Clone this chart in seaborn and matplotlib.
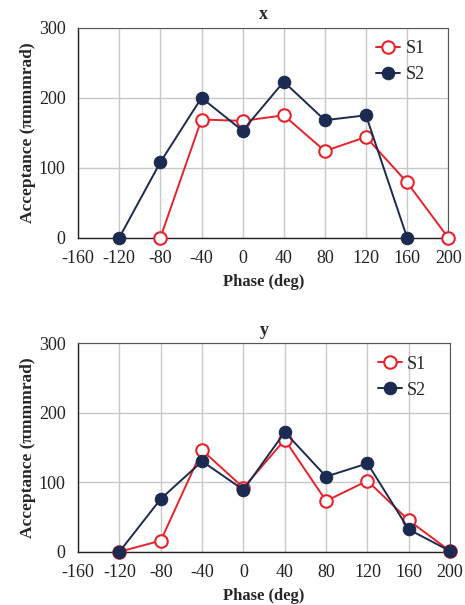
import matplotlib
matplotlib.use('Agg')
import matplotlib.pyplot as plt
import seaborn as sns
import pandas as pd

# phase values and acceptances
phase = [-120, -80, -40, 0, 40, 80, 120, 160, 200]
x_s1 = [None, 0, 169, 167, 175, 124, 144, 79, 0]
x_s2 = [0, 108, 200, 153, 223, 168, 175, 0, None]
y_s1 = [0, 16, 146, 92, 161, 73, 102, 45, 1]
y_s2 = [0, 76, 130, 89, 172, 108, 127, 32, 1]
xticks = [-160, -120, -80, -40, 0, 40, 80, 120, 160, 200]
yticks = [0, 100, 200, 300]

RED = '#e8222b'
NAVY = '#1b2a50'

sns.set_style('white')
plt.rcParams['font.family'] = ['Liberation Serif', 'DejaVu Serif']
plt.rcParams['axes.unicode_minus'] = False

fig = plt.figure(figsize=(4.65, 6.05), dpi=100)
ax_top = fig.add_axes([0.168, 0.607, 0.796, 0.347])
ax_bot = fig.add_axes([0.168, 0.088, 0.800, 0.345])


def draw(ax, s1, s2, title):
    df = pd.DataFrame({'phase': phase, 'S1': s1, 'S2': s2})
    d1 = df.dropna(subset=['S1'])
    d2 = df.dropna(subset=['S2'])
    sns.lineplot(data=d1, x='phase', y='S1', ax=ax, color=RED, lw=1.4,
                 marker='o', markersize=9, markerfacecolor='white',
                 markeredgecolor=RED, markeredgewidth=1.5, label='S1',
                 clip_on=False, zorder=3)
    sns.lineplot(data=d2, x='phase', y='S2', ax=ax, color=NAVY, lw=1.4,
                 marker='o', markersize=9, markerfacecolor=NAVY,
                 markeredgecolor=NAVY, label='S2', clip_on=False, zorder=4)
    ax.set_xlim(-160, 200)
    ax.set_ylim(0, 300)
    ax.set_xticks(xticks)
    ax.set_yticks(yticks)
    ax.grid(True, color='#c8c8c8', lw=1.0)
    ax.set_axisbelow(True)
    for side in ['top', 'right']:
        ax.spines[side].set_color('#555555')
        ax.spines[side].set_linewidth(0.8)
    for side in ['left', 'bottom']:
        ax.spines[side].set_color('#222222')
        ax.spines[side].set_linewidth(1.0)
    ax.tick_params(axis='both', labelsize=13, length=4, width=1,
                   colors='#222222', direction='out', pad=5)
    ax.tick_params(axis='x', length=0, pad=9)
    ax.set_xlabel('Phase (deg)', fontsize=12, fontweight='bold', labelpad=5)
    ax.set_ylabel('Acceptance (πmmmrad)', fontsize=12.5, fontweight='bold',
                  labelpad=2)
    ax.set_title(title, fontsize=13, fontweight='bold', pad=6)
    ax.legend(loc='upper right', frameon=False, fontsize=13,
              handlelength=1.3, handletextpad=0.3, labelspacing=0.5,
              borderaxespad=0.3, bbox_to_anchor=(0.97, 1.0))


draw(ax_top, x_s1, x_s2, 'x')
draw(ax_bot, y_s1, y_s2, 'y')

fig.savefig('out.png', dpi=100)
